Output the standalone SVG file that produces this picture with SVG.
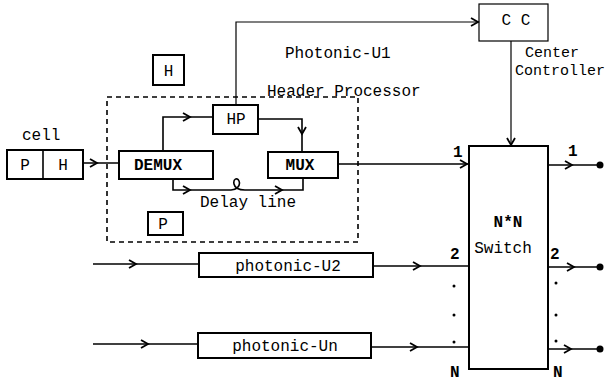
<svg xmlns="http://www.w3.org/2000/svg" width="614" height="385" viewBox="0 0 614 385">
<defs>
<style>
.box{fill:#fff;stroke:#000;stroke-width:2}
.ln{fill:none;stroke:#000;stroke-width:1.6}
.thin{fill:none;stroke:#000;stroke-width:1.2}
.dash{fill:none;stroke:#000;stroke-width:1.6;stroke-dasharray:5 4}
.t{font-family:"Liberation Mono","Courier New",monospace;font-size:16px;fill:#000}
.tb{font-family:"Liberation Mono","Courier New",monospace;font-size:16px;font-weight:bold;fill:#000}
.s{font-size:15px}
.c{text-anchor:middle}
.chev{fill:none;stroke:#000;stroke-width:1.8}
</style>
<path id="chev" class="chev" d="M-7,-4 L0,0 L-7,4"/>
</defs>
<rect width="614" height="385" fill="#fff"/>

<g id="connectors">
<!-- cell to DEMUX -->
<path class="ln" d="M83,163 H119"/>
<use href="#chev" x="97" y="163"/>
<!-- DEMUX to HP -->
<path class="ln" d="M163,151 V117 H213"/>
<use href="#chev" x="190" y="117"/>
<!-- HP to MUX -->
<path class="ln" d="M258,119 H302 V152"/>
<use href="#chev" transform="translate(302,134) rotate(90)"/>
<!-- delay line -->
<path class="ln" d="M173,178 V190 H231 C236,190 241,186 239,181 C237,177 233,179 234,184 C235,189 239,190 245,190 H303 V178"/>
<use href="#chev" x="190" y="190"/>
<use href="#chev" x="282" y="190"/>
<!-- HP to CC -->
<path class="thin" d="M236,105 V22 H479"/>
<use href="#chev" x="478" y="22"/>
<!-- CC to switch -->
<path class="thin" d="M511,41 V146"/>
<use href="#chev" transform="translate(511,145) rotate(90)"/>
<!-- MUX to switch -->
<path class="ln" d="M338,164 H468"/>
<use href="#chev" x="467" y="164"/>
<!-- row 2 -->
<path class="ln" d="M93,264 H199"/>
<use href="#chev" x="136" y="264"/>
<path class="ln" d="M373,266 H468"/>
<use href="#chev" x="420" y="266"/>
<!-- row N -->
<path class="ln" d="M93,344 H198"/>
<use href="#chev" x="148" y="344"/>
<path class="ln" d="M371,347 H468"/>
<use href="#chev" x="417" y="347"/>
<!-- outputs -->
<path class="ln" d="M548,165 H600"/>
<use href="#chev" x="572" y="165"/>
<circle cx="600" cy="165" r="3.5"/>
<path class="ln" d="M548,267 H600"/>
<use href="#chev" x="574" y="267"/>
<circle cx="600" cy="267" r="3.5"/>
<path class="ln" d="M548,349 H600"/>
<use href="#chev" x="571" y="349"/>
<circle cx="600" cy="349" r="3.5"/>
</g>

<g id="header-processor">
<rect class="dash" x="107" y="97" width="251" height="145"/>
<text class="t" x="267" y="96">Header Processor</text>
</g>

<g id="photonic-u1-label">
<text class="t" x="285" y="58">Photonic-U1</text>
</g>

<g id="h-packet">
<rect class="box" x="153" y="55" width="31" height="30"/>
<text class="t c" x="168.5" y="76">H</text>
</g>

<g id="p-packet">
<rect class="box" x="148" y="212" width="35" height="23"/>
<text class="t c" x="163" y="229">P</text>
</g>

<g id="cell">
<text class="t" x="22" y="140">cell</text>
<rect class="box" x="7" y="150" width="76" height="29"/>
<line class="ln" x1="43" y1="150" x2="43" y2="179"/>
<text class="t c" x="25" y="170">P</text>
<text class="t c" x="63" y="170">H</text>
</g>

<g id="demux">
<rect class="box" x="119" y="151" width="94" height="28"/>
<text class="tb c" x="158" y="170">DEMUX</text>
</g>

<g id="hp">
<rect class="box" x="213" y="105" width="45" height="29"/>
<text class="t c" x="236" y="124">HP</text>
</g>

<g id="mux">
<rect class="box" x="268" y="152" width="70" height="26"/>
<text class="tb c" x="300" y="170">MUX</text>
</g>

<g id="delay-line-label">
<text class="t" x="200" y="207">Delay line</text>
</g>

<g id="cc">
<rect class="thin" x="479" y="4" width="69" height="37" fill="#fff" stroke-width="1.4"/>
<text class="t c" x="516" y="25">C C</text>
<text class="t s" x="525" y="57">Center</text>
<text class="t s" x="515" y="75">Controller</text>
</g>

<g id="switch">
<rect class="box" x="469" y="146" width="79" height="223"/>
<text class="tb c" x="508" y="227">N*N</text>
<text class="t c" x="503" y="253">Switch</text>
</g>

<g id="photonic-u2">
<rect class="box" x="199" y="253" width="174" height="24"/>
<text class="t c" x="288" y="271">photonic-U2</text>
</g>

<g id="photonic-un">
<rect class="box" x="198" y="333" width="173" height="25"/>
<text class="t c" x="285" y="351">photonic-Un</text>
</g>

<g id="port-labels">
<text class="tb" x="453" y="157">1</text>
<text class="tb" x="568" y="156">1</text>
<text class="tb" x="450" y="259">2</text>
<text class="tb" x="550" y="259">2</text>
<text class="tb" x="450" y="377">N</text>
<text class="tb" x="553" y="377">N</text>
<circle cx="454" cy="286" r="1.5"/>
<circle cx="454" cy="315" r="1.5"/>
<circle cx="454" cy="342" r="1.5"/>
<circle cx="556" cy="283" r="1.5"/>
<circle cx="556" cy="315" r="1.5"/>
<circle cx="556" cy="341" r="1.5"/>
</g>
</svg>
